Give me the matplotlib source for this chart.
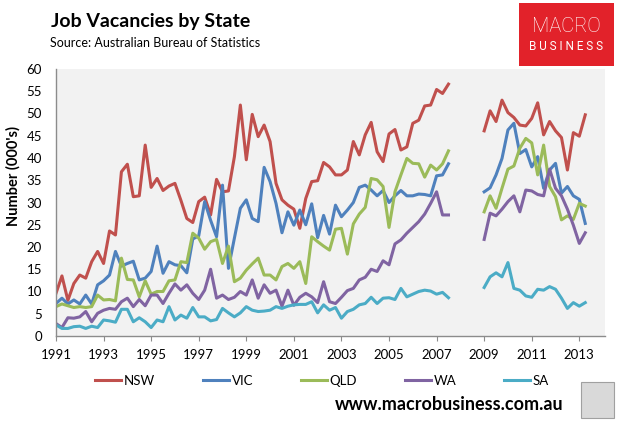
import numpy as np
import matplotlib
matplotlib.use("Agg")
import matplotlib.pyplot as plt
from matplotlib.patches import Rectangle

plt.rcParams["font.family"] = ["Lato", "DejaVu Sans"]

# quarterly job vacancies ('000), Feb 1991 .. May 2007, then Feb 2009 .. May 2013
nsw_pre = [9.6, 13.5, 8.0, 11.8, 13.7, 13.0, 16.7, 19.0, 16.3, 23.6, 22.7, 36.9, 38.6,
           31.3, 31.5, 42.9, 33.4, 35.4, 32.7, 33.7, 34.3, 30.5, 26.4, 25.5, 30.2, 31.2,
           27.2, 35.2, 32.4, 32.6, 40.3, 51.9, 39.6, 49.8, 44.8, 47.4, 43.7, 34.3, 30.6,
           29.4, 28.5, 24.2, 30.9, 34.7, 34.9, 39.0, 38.0, 36.2, 36.2, 37.3, 43.7, 40.7,
           45.2, 48.0, 41.4, 39.2, 45.4, 46.4, 41.8, 42.5, 47.8, 48.5, 51.7, 51.9, 55.4,
           54.5, 56.6]
vic_pre = [7.3, 8.5, 7.2, 8.1, 7.2, 9.2, 7.2, 11.5, 12.4, 13.7, 19.0, 15.7, 16.3, 16.8,
           12.6, 13.0, 14.5, 20.2, 14.1, 16.7, 16.0, 15.8, 14.2, 21.8, 22.5, 30.2, 26.0,
           22.3, 33.9, 15.2, 22.0, 28.7, 30.6, 26.4, 25.7, 37.9, 34.7, 29.8, 23.2, 27.9,
           24.9, 28.3, 25.0, 29.7, 22.1, 27.1, 22.9, 29.4, 26.8, 28.3, 30.0, 33.4, 33.9,
           32.8, 31.5, 32.7, 30.0, 31.5, 32.7, 31.5, 31.5, 31.9, 31.8, 31.5, 36.0, 36.2,
           38.7]
qld_pre = [6.6, 7.2, 6.8, 6.4, 6.6, 6.4, 6.6, 9.2, 8.1, 8.2, 7.9, 17.5, 12.7, 12.6, 8.8,
           12.4, 9.4, 10.0, 10.0, 12.4, 12.6, 16.7, 16.5, 23.1, 22.0, 19.5, 21.2, 21.7,
           16.3, 20.2, 12.2, 13.0, 14.8, 16.2, 17.5, 13.7, 13.7, 12.6, 15.6, 16.3, 15.2,
           16.7, 11.8, 22.3, 21.2, 20.2, 19.3, 24.0, 24.2, 18.4, 25.2, 27.4, 28.9, 35.4,
           35.1, 33.6, 24.4, 32.4, 36.2, 39.9, 38.8, 38.7, 35.7, 38.4, 37.3, 38.7, 41.6]
wa_pre = [2.8, 1.9, 4.1, 4.0, 4.3, 5.5, 3.2, 5.1, 5.8, 6.2, 6.0, 7.7, 8.5, 6.6, 8.2, 6.8,
          9.2, 9.2, 7.3, 9.6, 11.7, 10.3, 11.5, 9.6, 8.2, 10.3, 15.0, 8.5, 9.2, 8.2, 8.7,
          10.0, 9.2, 12.6, 8.5, 11.5, 9.6, 10.3, 6.7, 10.3, 6.9, 8.7, 9.6, 8.8, 7.5, 12.2,
          7.7, 7.3, 8.7, 10.2, 10.7, 12.6, 13.2, 15.0, 14.5, 16.9, 16.0, 20.7, 21.6, 23.1,
          24.4, 25.7, 27.4, 29.8, 32.4, 27.2, 27.2]
sa_pre = [2.5, 1.7, 1.7, 2.1, 2.2, 1.7, 2.2, 1.9, 3.6, 3.4, 3.1, 6.0, 6.0, 3.2, 4.1, 3.2,
          1.9, 3.6, 3.2, 6.6, 3.6, 4.7, 4.0, 6.4, 4.3, 4.3, 3.4, 3.7, 6.2, 5.2, 4.3, 5.2,
          6.6, 5.8, 5.5, 5.6, 5.8, 6.6, 6.2, 6.7, 7.0, 7.1, 7.1, 7.7, 5.2, 7.0, 5.8, 6.4,
          4.0, 5.5, 6.0, 7.0, 7.3, 8.7, 7.3, 8.5, 8.6, 8.2, 10.7, 8.8, 9.4, 10.0, 10.3,
          10.1, 9.4, 9.8, 8.6]

nsw_post = [46.1, 50.6, 48.2, 53.0, 50.2, 49.1, 47.4, 47.2, 48.9, 52.4, 45.2, 48.2, 46.1,
            44.6, 37.3, 45.7, 44.9, 49.7]
vic_post = [32.4, 33.3, 36.2, 39.9, 46.3, 47.8, 41.0, 41.9, 38.0, 40.3, 33.2, 37.3, 38.8,
            32.1, 33.6, 31.5, 30.7, 25.3]
qld_post = [27.9, 31.5, 28.7, 33.2, 37.5, 38.2, 42.2, 44.4, 43.4, 36.2, 42.9, 33.6, 31.3,
            26.1, 27.0, 26.2, 29.8, 29.2]
wa_post = [21.7, 27.6, 27.0, 28.5, 30.2, 31.5, 27.9, 32.8, 32.6, 31.8, 31.5, 37.5, 33.2,
           31.5, 28.5, 24.9, 20.8, 23.2]
sa_post = [10.9, 13.3, 14.2, 13.3, 16.5, 10.7, 10.3, 9.0, 8.7, 10.5, 10.3, 11.1, 10.5,
           8.5, 6.2, 7.5, 6.7, 7.5]

states = ["NSW", "VIC", "QLD", "WA", "SA"]
colors = ["#C0504D", "#4F81BD", "#9BBB59", "#8064A2", "#4BACC6"]
n_gap = 5  # quarters with no survey

n_pre = len(nsw_pre)
n_post = len(nsw_post)
t = 1991 + 0.25 * np.arange(n_pre + n_gap + n_post)

series = {
    "NSW": (nsw_pre, nsw_post),
    "VIC": (vic_pre, vic_post),
    "QLD": (qld_pre, qld_post),
    "WA": (wa_pre, wa_post),
    "SA": (sa_pre, sa_post),
}

W, H = 621, 424
fig = plt.figure(figsize=(W / 100, H / 100), dpi=100)
ax = fig.add_axes([56 / W, 1 - 336 / H, (605 - 56) / W, (336 - 69) / H])
ax.set_facecolor("#F2F2F2")

for name, col in zip(states, colors):
    pre, post = series[name]
    y = np.concatenate([pre, [np.nan] * n_gap, post])
    ax.plot(t, y, color=col, lw=2.2, label=name, solid_joinstyle="round")

ax.set_xlim(1991, 2014.08)
ax.set_ylim(0, 60)
ax.set_xticks(np.arange(1991, 2014, 2))
ax.set_yticks(np.arange(0, 61, 5))
for s in ["top", "right"]:
    ax.spines[s].set_visible(False)
for s in ["left", "bottom"]:
    ax.spines[s].set_color("#8C8C8C")
    ax.spines[s].set_linewidth(1.0)
ax.tick_params(axis="x", length=3.5, color="#8C8C8C", labelsize=9.5, pad=6)
ax.tick_params(axis="y", length=0, labelsize=9.5, pad=10)

fig.text(13 / W, 1 - 176 / H, "Number (000's)", rotation=90, ha="center", va="center",
         fontsize=10.5, fontweight="bold")

fig.legend(loc="center", bbox_to_anchor=(322 / W, 1 - 381 / H), ncol=5, frameon=False,
           fontsize=9.5, handlelength=2.0, handletextpad=0.2, columnspacing=3.6)

fig.text(51 / W, 1 - 21 / H, "Job Vacancies by State", fontsize=14, fontweight="bold",
         ha="left", va="center")
fig.text(50 / W, 1 - 43 / H, "Source: Australian Bureau of Statistics", fontsize=9,
         ha="left", va="center")

# logo
fig.patches.append(Rectangle((519 / W, 1 - 66 / H), 95 / W, 63 / H, transform=fig.transFigure,
                             facecolor="#E2222A", edgecolor="none"))
fig.text(566 / W, 1 - 26 / H, "MACRO", color="white", fontsize=14.5, ha="center",
         va="center", fontweight="light", family=["Roboto", "DejaVu Sans"])
fig.text(566 / W, 1 - 46 / H, "B U S I N E S S", color="white", fontsize=8.5, ha="center",
         va="center", family=["Roboto", "DejaVu Sans"])

fig.text(563 / W, 1 - 405 / H, "www.macrobusiness.com.au", fontsize=13, fontweight="bold",
         ha="right", va="center")
fig.patches.append(Rectangle((581 / W, 1 - 418 / H), 33 / W, 36 / H, transform=fig.transFigure,
                             facecolor="#D9D9D9", edgecolor="#A0A0A0", lw=0.8))

fig.savefig("out.png", dpi=100)
